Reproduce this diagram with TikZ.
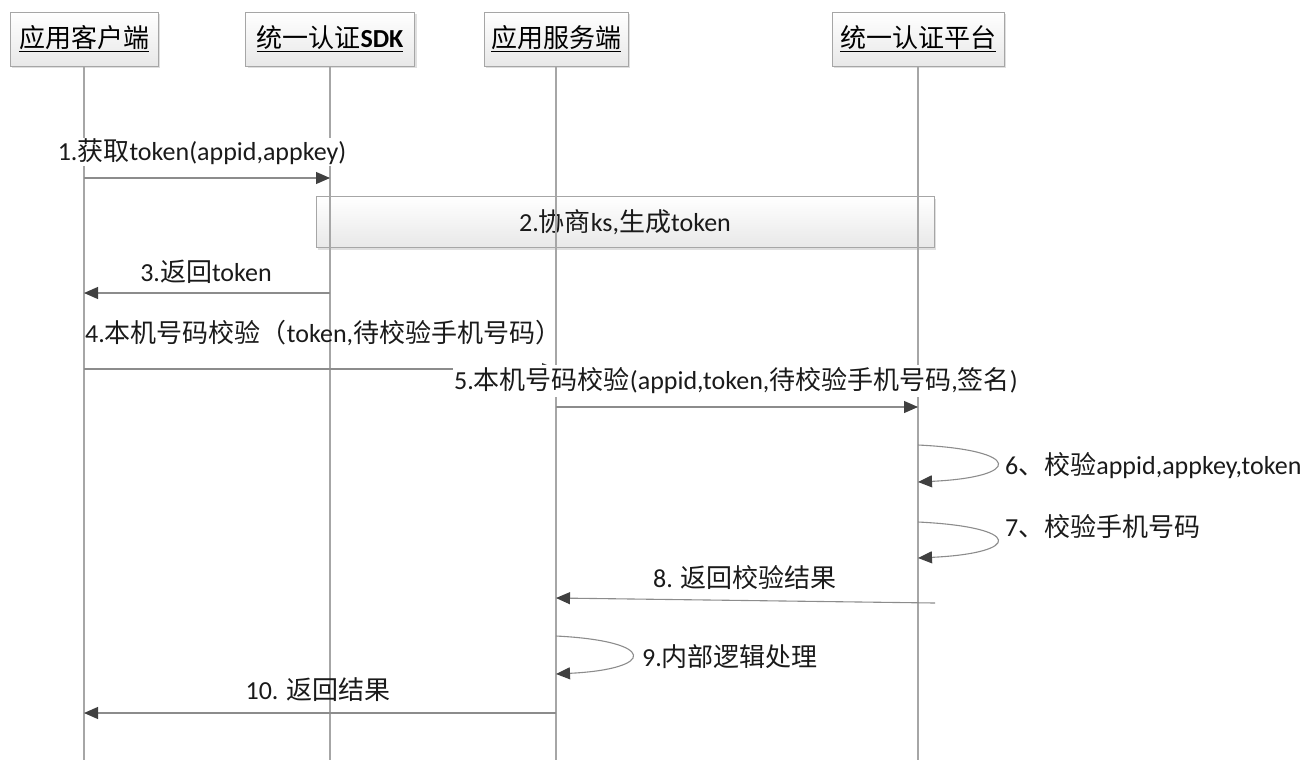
\documentclass[tikz,border=0pt]{standalone}
\usepackage{fontspec}
\setmainfont{Carlito}
\newfontfamily\cjk{Noto Sans CJK SC}
\usetikzlibrary{arrows.meta,shadows}
\newcommand\zh[1]{{\cjk #1}}
\definecolor{linegray}{HTML}{8C8C8C}
\definecolor{lifegray}{HTML}{A6A6A6}
\definecolor{tipgray}{HTML}{404040}
\definecolor{txt}{HTML}{1A1A1A}
\tikzset{
  head/.style={draw=lifegray, line width=1pt, top color=white, bottom color=black!9,
    drop shadow={shadow xshift=2pt, shadow yshift=-2pt, opacity=0.25},
    minimum height=54pt, inner sep=0pt, font=\fontsize{26}{30}\selectfont, text=black},
  actbox/.style={draw=lifegray, line width=1pt, top color=white, bottom color=black!9,
    drop shadow={shadow xshift=2pt, shadow yshift=-2pt, opacity=0.25},
    inner sep=0pt, font=\fontsize{26}{30}\selectfont, text=txt},
  life/.style={draw=lifegray, line width=1.1pt},
  msg/.style={draw=linegray, line width=1.1pt,
    -{Triangle[length=14pt,width=12pt,fill=tipgray,color=tipgray]}},
  plain/.style={draw=linegray, line width=1.1pt},
  lbl/.style={font=\fontsize{26}{30}\selectfont, text=txt, inner sep=1pt},
}
\begin{document}
\begin{tikzpicture}[x=1pt,y=-1pt]
\useasboundingbox (0,0) rectangle (1311,761);
% headers
\node[head, minimum width=148pt] (c) at (84,39) {\underline{\zh{应用客户端}}};
\node[head, minimum width=169pt] (k) at (330,39) {\underline{\zh{统一认证}\textbf{SDK}}};
\node[head, minimum width=144pt] (s) at (556,39) {\underline{\zh{应用服务端}}};
\node[head, minimum width=172pt] (p) at (918,39) {\underline{\zh{统一认证平台}}};
% activity box
\node[actbox, minimum width=618pt, minimum height=51pt] (a2) at (625,222) {2.\zh{协商}ks,\zh{生成}token};
% lifelines
\coordinate (cb) at (84,760);
\coordinate (kb) at (330,760);
\coordinate (sb) at (556,760);
\coordinate (pb) at (918,760);
\draw[life] (c.south) -- (cb);
\draw[life] (k.south) -- (kb);
\draw[life] (s.south) -- (sb);
\draw[life] (p.south) -- (pb);
% 1
\node[lbl, fill=white] (l1) at (202,152) {1.\zh{获取}token(appid,appkey)};
\draw[msg] (c |- 0,178) -- (k |- 0,178);
% 3
\node[lbl] (l3) at (206,272) {3.\zh{返回}token};
\draw[msg] (k |- 0,293) -- (c |- 0,293);
% 4
\node[lbl, anchor=west] (l4) at (84,333) {4.\zh{本机号码校验（}token,\zh{待校验手机号码）}};
\draw[msg] (c |- 0,369) -- (s |- 0,369);
% 5
\node[lbl, fill=white, inner ysep=3pt] (l5) at (736,381) {5.\zh{本机号码校验}(appid,token,\zh{待校验手机号码},\zh{签名})};
\draw[msg] (s |- 0,407) -- (p |- 0,407);
% 6
\draw[msg] (p |- 0,445) .. controls (1023,450) and (1023,477) .. (p |- 0,482);
\node[lbl, anchor=west] (l6) at (1004,466) {6\zh{、校验}appid,appkey,token};
% 7
\draw[msg] (p |- 0,522) .. controls (1023,527) and (1023,553) .. (p |- 0,558);
\node[lbl, anchor=west] (l7) at (1004,527) {7\zh{、校验手机号码}};
% 8
\coordinate (e8) at (935,603);
\node[lbl] (l8) at (745,578) {8. \zh{返回校验结果}};
\draw[msg] (e8) -- (s |- 0,598);
% 9
\draw[msg] (s |- 0,636) .. controls (657,641) and (657,669) .. (s |- 0,674);
\node[lbl, anchor=west] (l9) at (641,657) {9.\zh{内部逻辑处理}};
% 10
\node[lbl] (l10) at (318,690) {10. \zh{返回结果}};
\draw[msg] (s |- 0,713) -- (c |- 0,713);
\end{tikzpicture}
\end{document}
